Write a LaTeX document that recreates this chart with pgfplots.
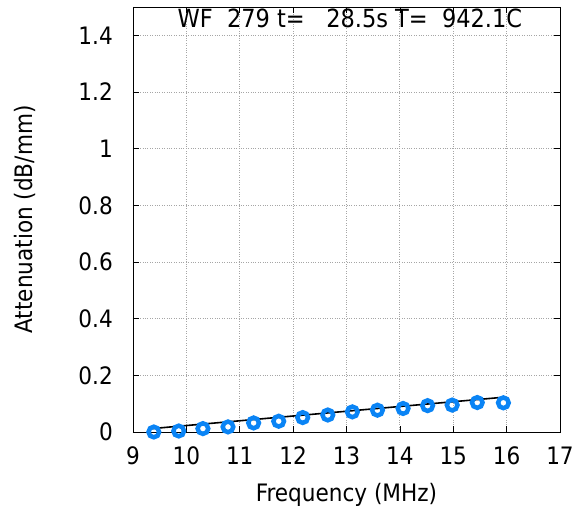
\documentclass[border=0pt]{standalone}
\usepackage{fontspec}
\setmainfont{DejaVu Sans Condensed}
\usepackage{pgfplots}
\pgfplotsset{compat=1.18}
\definecolor{ptblue}{RGB}{10,132,245}
\begin{document}
\fontsize{24}{28}\selectfont
\begin{tikzpicture}[x=1pt,y=1pt]
\path[use as bounding box] (-133,-74) rectangle (441,432);
\begin{axis}[
  at={(0,0)}, anchor=south west,
  scale only axis, width=427pt, height=425pt,
  xmin=9, xmax=17, ymin=0, ymax=1.5,
  xtick={9,10,...,17}, ytick={0,0.2,...,1.4},
  yticklabels={0,0.2,0.4,0.6,0.8,1,1.2,1.4},
  tick align=inside, major tick length=6pt,
  grid=major, grid style={gray!70, dotted, line width=0.9pt},
  axis line style={black, line width=0.9pt},
  tick style={black, line width=0.7pt},
  /pgf/number format/assume math mode=true,
  ticklabel style={font=\fontsize{24}{28}\selectfont},
  xticklabel style={anchor=base, yshift=-33pt},
  yticklabel style={anchor=east, inner xsep=0pt, xshift=-20pt},
  xlabel={Frequency (MHz)}, ylabel={Attenuation (dB/mm)},
  label style={font=\fontsize{24}{28}\selectfont},
  xlabel style={at={(axis description cs:0.5,-0.1635)}, anchor=base},
  ylabel style={at={(axis description cs:-0.2342,0.5)}, anchor=base},
  clip=false,
]
\addplot[only marks, mark=o, mark size=5.3pt, mark options={ptblue, line width=4.5pt}] coordinates {
(9.39,0.000) (9.857,0.0035) (10.31,0.012) (10.78,0.018) (11.26,0.032)
(11.73,0.038) (12.18,0.051) (12.65,0.060) (13.11,0.071) (13.58,0.077)
(14.06,0.083) (14.52,0.093) (14.98,0.095) (15.45,0.104) (15.94,0.103)};
\addplot[black, line width=1.6pt] coordinates {(9.3,0.011) (15.9,0.122)};
\node[anchor=base, font=\fontsize{25}{29}\selectfont, inner sep=0pt] at (rel axis cs:0.508,0.9506) {WF~~279 t=~~~28.5s T=~~942.1C};
\end{axis}
\end{tikzpicture}
\end{document}
